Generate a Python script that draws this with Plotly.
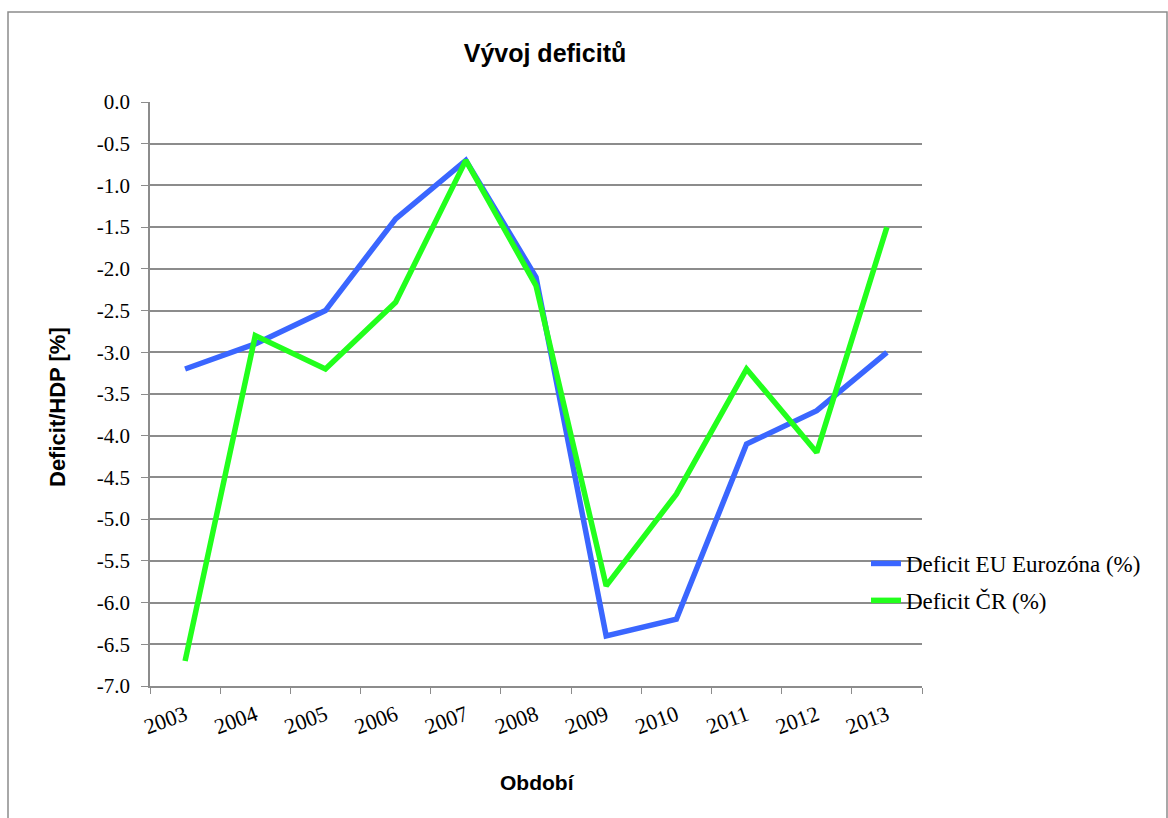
import plotly.graph_objects as go

# Roční deficit veřejných financí v poměru k HDP
years = ["2003", "2004", "2005", "2006", "2007", "2008",
         "2009", "2010", "2011", "2012", "2013"]
deficit_eu = [-3.2, -2.9, -2.5, -1.4, -0.7, -2.1, -6.4, -6.2, -4.1, -3.7, -3.0]
deficit_cr = [-6.7, -2.8, -3.2, -2.4, -0.7, -2.2, -5.8, -4.7, -3.2, -4.2, -1.5]

y_tick_vals = [0.0, -0.5, -1.0, -1.5, -2.0, -2.5, -3.0, -3.5,
               -4.0, -4.5, -5.0, -5.5, -6.0, -6.5, -7.0]
y_tick_text = ["%.1f" % v if v == 0 else "-%.1f" % abs(v) for v in y_tick_vals]

W, H = 1168, 818
L, R, T, B = 150, 246, 102, 132
pw, ph = W - L - R, H - T - B

def px(x):
    return (x - L) / pw

def py(y):
    return (H - B - y) / ph

serif = "Liberation Serif, Times New Roman, serif"
sans = "Liberation Sans, Arial, sans-serif"
grid = "#8c8c8c"

fig = go.Figure()
fig.add_trace(go.Scatter(
    x=years, y=deficit_eu, mode="lines", name="Deficit EU Eurozóna (%)",
    line=dict(color="#3a66ff", width=5.5), legendgroup="eu"))
fig.add_trace(go.Scatter(
    x=years, y=deficit_cr, mode="lines", name="Deficit ČR (%)",
    line=dict(color="#22ff1c", width=5.5), legendgroup="cr"))

fig.update_layout(
    width=W, height=H,
    margin=dict(l=L, r=R, t=T, b=B),
    paper_bgcolor="white", plot_bgcolor="white",
    title=dict(text="<b>Vývoj deficitů</b>", x=545 / W, xanchor="center",
               y=1 - 53 / H, yanchor="middle",
               font=dict(family=sans, size=25, color="black")),
    showlegend=True,
    legend=dict(x=px(866), y=py(542), xanchor="left", yanchor="top",
                bgcolor="rgba(0,0,0,0)", tracegroupgap=4,
                font=dict(family=serif, size=23, color="black")),
    xaxis=dict(type="category", range=[-0.5, 10.5], tickson="boundaries",
               ticks="outside", ticklen=6, tickcolor=grid, showgrid=False,
               showline=True, linecolor=grid, linewidth=1.5, tickangle=-20,
               ticklabelstandoff=6,
               tickfont=dict(family=serif, size=22, color="black")),
    yaxis=dict(range=[-7, 0], tickvals=y_tick_vals, ticktext=y_tick_text,
               ticks="outside", ticklen=7, tickcolor=grid, showgrid=True,
               gridcolor=grid, gridwidth=1.5, zeroline=False,
               showline=True, linecolor=grid, linewidth=1.5,
               ticklabelstandoff=7,
               tickfont=dict(family=serif, size=21, color="black")),
    annotations=[
        dict(text="<b>Deficit/HDP [%]</b>", xref="paper", yref="paper",
             x=px(57), y=py(407), xanchor="center", yanchor="middle",
             textangle=-90, showarrow=False,
             font=dict(family=sans, size=22, color="black")),
        dict(text="<b>Období</b>", xref="paper", yref="paper",
             x=px(537), y=py(782), xanchor="center", yanchor="middle",
             showarrow=False, font=dict(family=sans, size=21, color="black")),
    ],
    shapes=[
        dict(type="rect", xref="paper", yref="paper",
             x0=px(8), x1=px(1167), y0=py(830), y1=py(12),
             line=dict(color="#8c8c8c", width=1.5), fillcolor="rgba(0,0,0,0)",
             layer="below"),
    ],
)

fig.write_html("out.html")
